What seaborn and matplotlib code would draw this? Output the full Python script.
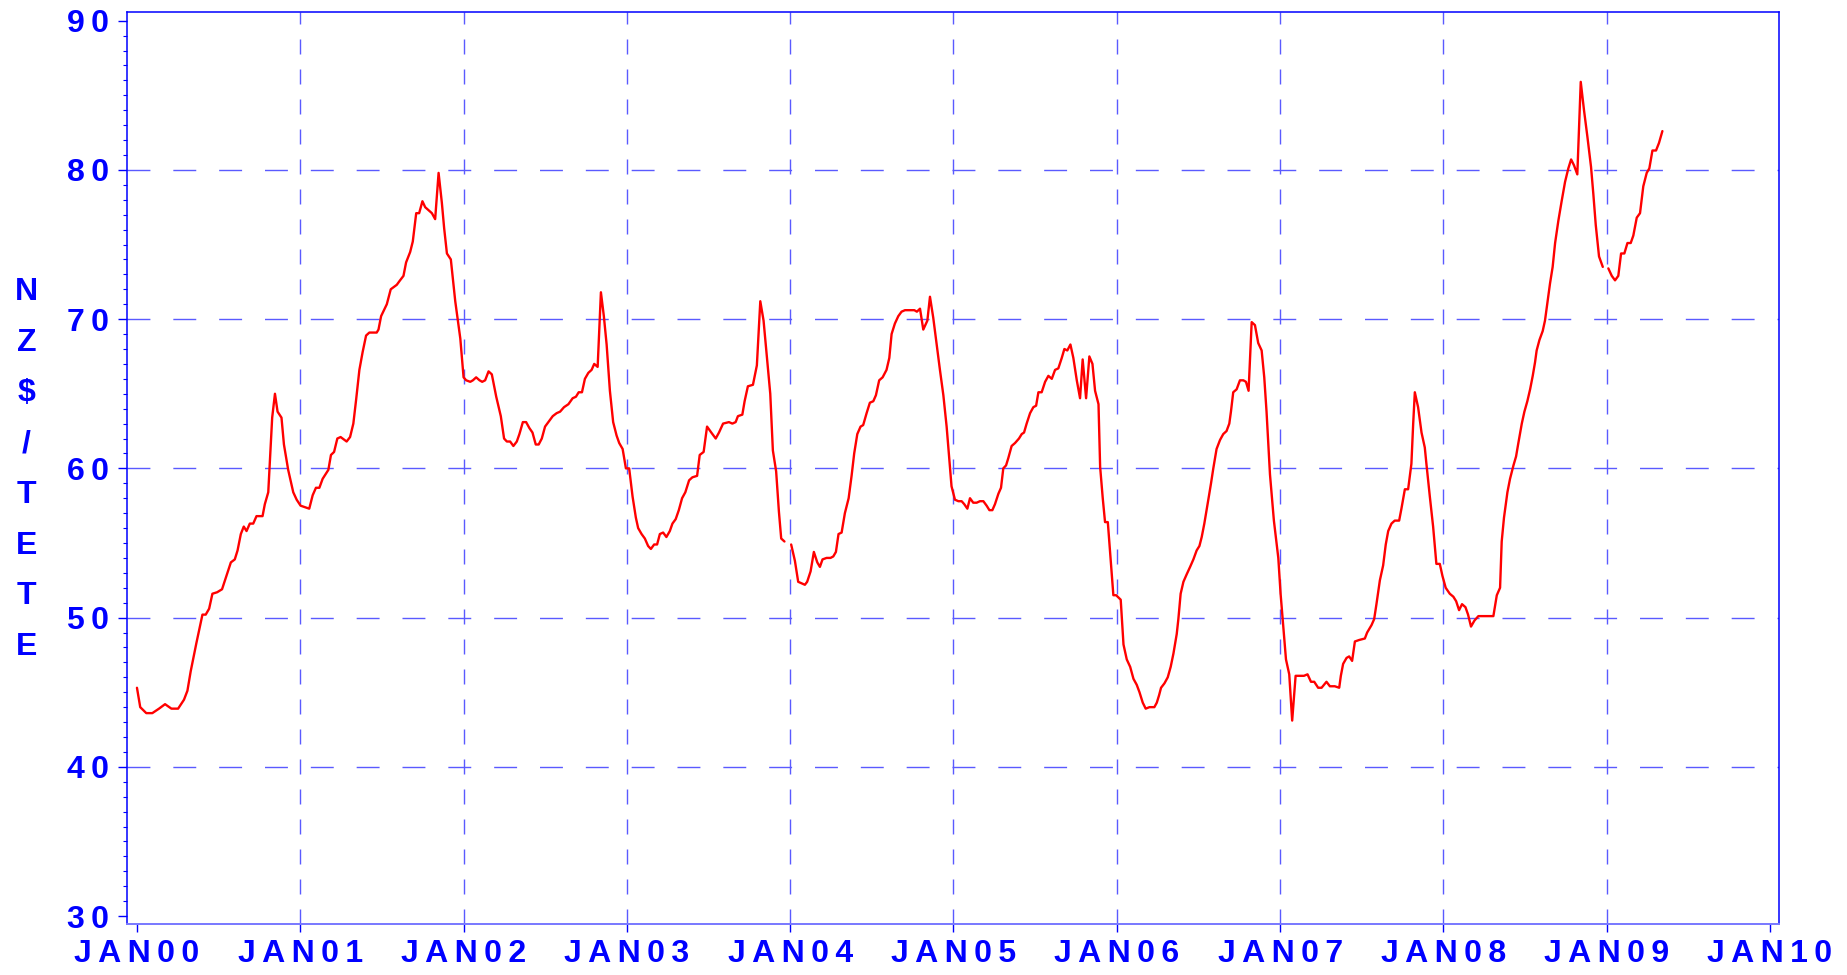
import numpy as np
import pandas as pd
import matplotlib
matplotlib.use("Agg")
import matplotlib.pyplot as plt
from matplotlib.ticker import MultipleLocator, NullLocator, FixedLocator
import seaborn as sns

# ---------------- data ----------------
# time in years since January 2000; NaN in price marks a break in the line
years = [
    0.000, 0.020, 0.057, 0.094, 0.135, 0.172, 0.211, 0.252, 0.288, 0.309,
    0.329, 0.364, 0.401, 0.421, 0.442, 0.462, 0.491, 0.521, 0.548, 0.575,
    0.599, 0.616, 0.636, 0.654, 0.671, 0.691, 0.712, 0.732, 0.769, 0.783,
    0.804, 0.828, 0.845, 0.861, 0.885, 0.900, 0.926, 0.957, 0.978, 1.002,
    1.029, 1.055, 1.076, 1.096, 1.117, 1.137, 1.172, 1.188, 1.207, 1.227,
    1.247, 1.284, 1.305, 1.325, 1.342, 1.362, 1.382, 1.403, 1.423, 1.468,
    1.479, 1.495, 1.530, 1.554, 1.591, 1.611, 1.632, 1.648, 1.673, 1.689,
    1.710, 1.728, 1.748, 1.765, 1.806, 1.826, 1.847, 1.867, 1.881, 1.898,
    1.922, 1.949, 1.980, 2.000, 2.016, 2.041, 2.057, 2.077, 2.098, 2.114,
    2.132, 2.153, 2.173, 2.200, 2.228, 2.248, 2.265, 2.285, 2.305, 2.326,
    2.342, 2.363, 2.383, 2.403, 2.422, 2.442, 2.460, 2.479, 2.499, 2.519,
    2.546, 2.570, 2.591, 2.615, 2.642, 2.668, 2.688, 2.705, 2.725, 2.743,
    2.764, 2.784, 2.800, 2.821, 2.841, 2.859, 2.876, 2.896, 2.916, 2.937,
    2.953, 2.974, 2.994, 3.014, 3.035, 3.055, 3.069, 3.090, 3.110, 3.130,
    3.147, 3.167, 3.185, 3.202, 3.222, 3.242, 3.263, 3.279, 3.299, 3.318,
    3.338, 3.358, 3.381, 3.401, 3.430, 3.446, 3.470, 3.491, 3.517, 3.544,
    3.564, 3.589, 3.625, 3.646, 3.666, 3.680, 3.707, 3.721, 3.741, 3.772,
    3.796, 3.817, 3.837, 3.857, 3.878, 3.894, 3.914, 3.931, 3.945, 3.965,
    3.985,
    4.006, 4.029, 4.049, 4.069, 4.090, 4.104, 4.125, 4.145, 4.166, 4.182,
    4.198, 4.223, 4.247, 4.264, 4.280, 4.296, 4.315, 4.335, 4.358, 4.376,
    4.392, 4.411, 4.431, 4.447, 4.468, 4.488, 4.509, 4.525, 4.545, 4.566,
    4.590, 4.607, 4.621, 4.641, 4.662, 4.682, 4.703, 4.729, 4.760, 4.776,
    4.795, 4.815, 4.840, 4.856, 4.876, 4.897, 4.917, 4.938, 4.958, 4.974,
    4.988, 5.009, 5.030, 5.050, 5.066, 5.085, 5.101, 5.121, 5.142, 5.162,
    5.183, 5.203, 5.220, 5.238, 5.254, 5.275, 5.291, 5.305, 5.322, 5.336,
    5.356, 5.377, 5.401, 5.418, 5.432, 5.448, 5.469, 5.489, 5.506, 5.520,
    5.540, 5.561, 5.581, 5.602, 5.622, 5.642, 5.663, 5.679, 5.697, 5.716,
    5.734, 5.755, 5.775, 5.791, 5.812, 5.832, 5.851, 5.867, 5.888, 5.898,
    5.914, 5.928, 5.945, 5.963, 5.979, 5.996, 6.024, 6.041, 6.061, 6.082,
    6.102, 6.122, 6.139, 6.159, 6.177, 6.200, 6.230, 6.245, 6.259, 6.271,
    6.292, 6.312, 6.330, 6.347, 6.367, 6.377, 6.391, 6.408, 6.428, 6.449,
    6.469, 6.489, 6.506, 6.520, 6.536, 6.550, 6.565, 6.577, 6.591, 6.611,
    6.632, 6.652, 6.672, 6.689, 6.699, 6.713, 6.734, 6.754, 6.775, 6.791,
    6.807, 6.826, 6.846, 6.866, 6.887, 6.903, 6.917, 6.938, 6.962, 6.989,
    7.003, 7.019, 7.036, 7.056, 7.074, 7.095, 7.115, 7.146, 7.168, 7.189,
    7.209, 7.233, 7.254, 7.284, 7.305, 7.335, 7.362, 7.372, 7.386, 7.407,
    7.423, 7.441, 7.458, 7.484, 7.519, 7.533, 7.560, 7.576, 7.590, 7.611,
    7.631, 7.647, 7.662, 7.682, 7.702, 7.729, 7.743, 7.764, 7.784, 7.804,
    7.815, 7.825, 7.845, 7.866, 7.886, 7.896, 7.917, 7.937, 7.957, 7.978,
    7.994, 8.014, 8.039, 8.061, 8.078, 8.096, 8.114, 8.135, 8.151, 8.169,
    8.190, 8.214, 8.255, 8.306, 8.327, 8.347, 8.357, 8.371, 8.392, 8.408,
    8.429, 8.445, 8.459, 8.480, 8.496, 8.514, 8.531, 8.547, 8.561, 8.571,
    8.588, 8.608, 8.622, 8.637, 8.653, 8.669, 8.684, 8.704, 8.724, 8.745,
    8.765, 8.782, 8.800, 8.820, 8.841, 8.861, 8.882, 8.904, 8.918, 8.933,
    8.953, 8.976,
    8.993,
    9.010, 9.031, 9.051, 9.071, 9.088, 9.108, 9.127, 9.147, 9.163, 9.184,
    9.204, 9.224, 9.245, 9.261, 9.280, 9.302, 9.320, 9.341,
]

price = [
    45.3, 44.0, 43.6, 43.6, 43.9, 44.2, 43.9, 43.9, 44.5, 45.1,
    46.4, 48.3, 50.2, 50.2, 50.6, 51.6, 51.7, 51.9, 52.8, 53.7,
    53.9, 54.5, 55.6, 56.1, 55.8, 56.3, 56.3, 56.8, 56.8, 57.6,
    58.4, 63.4, 65.0, 63.8, 63.4, 61.6, 59.9, 58.4, 57.9, 57.5,
    57.4, 57.3, 58.2, 58.7, 58.7, 59.3, 59.9, 60.9, 61.1, 62.0,
    62.1, 61.8, 62.1, 63.0, 64.6, 66.6, 67.8, 68.9, 69.1, 69.1,
    69.3, 70.2, 71.0, 72.0, 72.3, 72.6, 72.9, 73.8, 74.5, 75.2,
    77.1, 77.1, 77.9, 77.5, 77.1, 76.7, 79.8, 77.8, 76.1, 74.4,
    74.0, 71.2, 68.7, 66.1, 65.9, 65.8, 65.9, 66.1, 65.9, 65.8,
    65.9, 66.5, 66.3, 64.8, 63.5, 62.0, 61.8, 61.8, 61.5, 61.8,
    62.3, 63.1, 63.1, 62.7, 62.4, 61.6, 61.6, 62.0, 62.8, 63.1,
    63.5, 63.7, 63.8, 64.1, 64.3, 64.7, 64.8, 65.1, 65.1, 66.0,
    66.4, 66.6, 67.0, 66.8, 71.8, 70.2, 68.3, 65.2, 63.1, 62.2,
    61.7, 61.3, 60.0, 60.0, 58.1, 56.7, 56.0, 55.6, 55.3, 54.8,
    54.6, 54.9, 54.9, 55.6, 55.7, 55.4, 55.8, 56.3, 56.6, 57.2,
    58.0, 58.4, 59.2, 59.4, 59.5, 60.9, 61.1, 62.8, 62.4, 62.0,
    62.4, 63.0, 63.1, 63.0, 63.1, 63.5, 63.6, 64.5, 65.5, 65.6,
    66.9, 71.2, 69.9, 67.5, 65.0, 61.2, 59.8, 57.1, 55.3, 55.1,
    np.nan,
    54.9, 53.8, 52.4, 52.3, 52.2, 52.4, 53.1, 54.4, 53.7, 53.4,
    53.9, 54.0, 54.0, 54.1, 54.4, 55.6, 55.7, 57.0, 58.0, 59.5,
    61.0, 62.3, 62.8, 62.9, 63.7, 64.4, 64.5, 64.9, 65.9, 66.1,
    66.6, 67.4, 69.0, 69.7, 70.2, 70.5, 70.6, 70.6, 70.6, 70.5,
    70.7, 69.3, 69.9, 71.5, 70.1, 68.3, 66.6, 64.9, 62.8, 60.7,
    58.8, 57.9, 57.8, 57.8, 57.6, 57.3, 58.0, 57.7, 57.7, 57.8,
    57.8, 57.5, 57.2, 57.2, 57.6, 58.3, 58.7, 60.0, 60.2, 60.7,
    61.5, 61.7, 62.0, 62.3, 62.4, 63.0, 63.7, 64.1, 64.2, 65.1,
    65.1, 65.8, 66.2, 66.0, 66.6, 66.7, 67.4, 68.0, 67.9, 68.3,
    67.4, 65.9, 64.7, 67.3, 64.7, 67.5, 67.0, 65.2, 64.3, 60.1,
    58.0, 56.4, 56.4, 53.8, 51.5, 51.5, 51.2, 48.2, 47.2, 46.7,
    45.9, 45.5, 45.0, 44.3, 43.9, 44.0, 44.0, 44.3, 44.8, 45.3,
    45.6, 46.0, 46.7, 47.6, 48.9, 49.9, 51.6, 52.4, 52.9, 53.4,
    53.9, 54.5, 54.8, 55.4, 56.3, 57.2, 58.2, 59.0, 60.0, 61.3,
    61.9, 62.3, 62.5, 63.0, 63.8, 65.1, 65.3, 65.9, 65.9, 65.8,
    65.2, 69.8, 69.6, 68.4, 67.9, 66.1, 63.8, 59.6, 56.5, 54.0,
    51.6, 49.5, 47.2, 46.2, 43.1, 46.1, 46.1, 46.1, 46.2, 45.7,
    45.7, 45.3, 45.3, 45.7, 45.4, 45.4, 45.3, 46.1, 46.9, 47.3,
    47.4, 47.1, 48.4, 48.5, 48.6, 49.0, 49.5, 49.9, 50.9, 52.5,
    53.5, 54.9, 55.8, 56.3, 56.5, 56.5, 57.3, 58.6, 58.6, 60.3,
    63.0, 65.1, 64.1, 62.4, 61.4, 60.3, 58.1, 56.1, 53.6, 53.6,
    52.8, 52.0, 51.6, 51.4, 51.1, 50.5, 50.9, 50.7, 50.2, 49.4,
    49.8, 50.1, 50.1, 50.1, 51.5, 52.0, 55.1, 56.7, 58.4, 59.3,
    60.2, 60.8, 61.7, 63.0, 63.8, 64.5, 65.3, 66.2, 67.1, 67.9,
    68.6, 69.2, 69.9, 71.1, 72.4, 73.5, 75.1, 76.6, 77.9, 79.2,
    80.1, 80.7, 80.3, 79.7, 85.9, 84.0, 82.2, 80.2, 78.4, 76.3,
    74.2, 73.5,
    np.nan,
    73.4, 72.9, 72.6, 72.9, 74.4, 74.4, 75.1, 75.1, 75.6, 76.8,
    77.1, 78.9, 79.8, 80.1, 81.3, 81.3, 81.8, 82.6,
]

x_ticks = [0, 1, 2, 3, 4, 5, 6, 7, 8, 9, 10]
x_tick_labels = ["JAN00", "JAN01", "JAN02", "JAN03", "JAN04", "JAN05",
                 "JAN06", "JAN07", "JAN08", "JAN09", "JAN10"]
y_ticks = [30, 40, 50, 60, 70, 80, 90]
y_label = "NZ$/TETE"

# ---------------- style ----------------
sns.set_style("white")
plt.rcParams["font.family"] = ["Liberation Sans", "DejaVu Sans"]
plt.rcParams["font.weight"] = "bold"

BLUE = "#0000ff"
GRID = "#5a5aff"
SP = "\u2009"  # thin space for letter spacing

df = pd.DataFrame({"t": years, "v": price})
df["seg"] = df["v"].isna().cumsum()
df = df.dropna()

fig = plt.figure(figsize=(18.47, 9.75), dpi=100)
ax = fig.add_axes([0.06876, 0.05231, 0.89442, 0.93538])

# grid lines (dashed), drawn under the data
for yv in y_ticks[1:-1]:
    ax.axhline(yv, color=GRID, lw=1.0, ls=(0, (16.5, 16.5)), zorder=1)
for xv in x_ticks[1:-1]:
    ax.axvline(xv, color=GRID, lw=1.0, ls=(0, (10.8, 10.8)), zorder=1)

sns.lineplot(data=df, x="t", y="v", units="seg", estimator=None,
             color="red", linewidth=1.7, ax=ax, legend=False, zorder=3)

ax.set_xlim(-0.061, 10.055)
ax.set_ylim(29.47, 90.58)

ax.xaxis.set_major_locator(FixedLocator(x_ticks))
ax.set_xticklabels([SP.join(s) for s in x_tick_labels])
ax.xaxis.set_minor_locator(NullLocator())
ax.yaxis.set_major_locator(FixedLocator(y_ticks))
ax.set_yticklabels([SP.join(str(v)) for v in y_ticks])
ax.yaxis.set_minor_locator(MultipleLocator(1))

ax.tick_params(axis="x", which="major", direction="out", length=5.8,
               width=1.0, color=BLUE, labelcolor=BLUE, labelsize=23, pad=5,
               bottom=True)
ax.tick_params(axis="y", which="major", direction="out", length=6.5,
               width=1.0, color=BLUE, labelcolor=BLUE, labelsize=23, pad=6.5,
               left=True)
ax.tick_params(axis="y", which="minor", direction="out", length=3.1,
               width=0.8, color=BLUE, left=True)
for lab in ax.get_xticklabels() + ax.get_yticklabels():
    lab.set_fontweight("bold")

ax.set_xlabel("")
ax.set_ylabel("")

for name, sp in ax.spines.items():
    sp.set_visible(True)
    sp.set_color(BLUE)
    sp.set_linewidth(1.1)
ax.spines["bottom"].set_color("#7878ff")
ax.spines["bottom"].set_linewidth(1.4)

# stacked vertical axis title
for i, ch in enumerate(y_label):
    yc = 292 + 50.7 * i
    fig.text(26.5 / 1847, 1 - yc / 975, ch, ha="center", va="center",
             color=BLUE, fontsize=23, fontweight="bold")

fig.savefig("out.png", dpi=100)
